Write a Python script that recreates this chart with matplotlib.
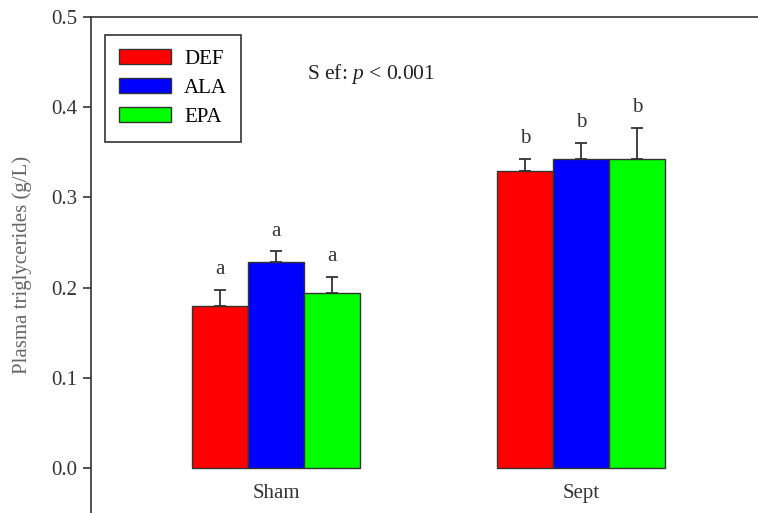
import numpy as np
import matplotlib.pyplot as plt

groups = ['Sham', 'Sept']
diets = ['DEF', 'ALA', 'EPA']
colors = ['#ff0000', '#0000ff', '#00ff00']

# mean values and upper error (g/L)
means = {
    'DEF': [0.180, 0.329],
    'ALA': [0.228, 0.343],
    'EPA': [0.194, 0.343],
}
errs = {
    'DEF': [0.017, 0.014],
    'ALA': [0.012, 0.017],
    'EPA': [0.018, 0.034],
}
letters = {
    'DEF': ['a', 'b'],
    'ALA': ['a', 'b'],
    'EPA': ['a', 'b'],
}

plt.rcParams['font.family'] = ['Liberation Serif', 'DejaVu Serif']
plt.rcParams['mathtext.fontset'] = 'custom'
plt.rcParams['mathtext.it'] = 'Liberation Serif:italic'
plt.rcParams['mathtext.rm'] = 'Liberation Serif'

fig = plt.figure(figsize=(7.58, 5.13), dpi=100)
ax = fig.add_axes([0.120, 0.0, 0.880, 0.9669])

x = np.arange(1, len(groups) + 1)
width = 0.184

for i, d in enumerate(diets):
    pos = x + (i - 1) * width
    ax.bar(pos, means[d], width, color=colors[i], edgecolor='#333333',
           linewidth=1, label=d, zorder=2)
    ax.errorbar(pos, means[d], yerr=[np.zeros(len(groups)), errs[d]],
                fmt='none', ecolor='#333333', elinewidth=1.3, capsize=4.5,
                capthick=1.3, zorder=3)
    for p, m, e, t in zip(pos, means[d], errs[d], letters[d]):
        ax.text(p, m + e + 0.012, t, ha='center', va='bottom', fontsize=15,
                color='#333333')

ax.set_xlim(0.393, 2.58)
ax.set_ylim(-0.05, 0.5)
ax.set_yticks([0.0, 0.1, 0.2, 0.3, 0.4, 0.5])
ax.set_yticklabels(['0.0', '0.1', '0.2', '0.3', '0.4', '0.5'])
ax.tick_params(axis='y', direction='out', length=6, width=1.2, labelsize=15,
               colors='#333333', pad=4)
ax.set_xticks([])
for xi, g in zip(x, groups):
    ax.text(xi, -0.028, g, ha='center', va='center', fontsize=15, color='#333333')

ax.spines['right'].set_visible(False)
ax.spines['bottom'].set_visible(False)
ax.spines['left'].set_linewidth(1.2)
ax.spines['top'].set_linewidth(1.2)
ax.spines['left'].set_color('#333333')
ax.spines['top'].set_color('#333333')

ax.set_ylabel('Plasma triglycerides (g/L)', fontsize=15, color='#666666', labelpad=14)

ax.text(1.1, 0.437, r'S ef: $\it{p}$ < 0.001', fontsize=15.5, color='#222222',
        va='center', ha='left')

leg = ax.legend(loc='upper left', bbox_to_anchor=(0.005, 0.985), fontsize=15,
                fancybox=False, edgecolor='#333333', framealpha=1,
                handlelength=2.5, handleheight=0.7, borderpad=0.7,
                labelspacing=0.45, handletextpad=0.6)
leg.get_frame().set_linewidth(1.2)

fig.savefig('out.png', dpi=100)
